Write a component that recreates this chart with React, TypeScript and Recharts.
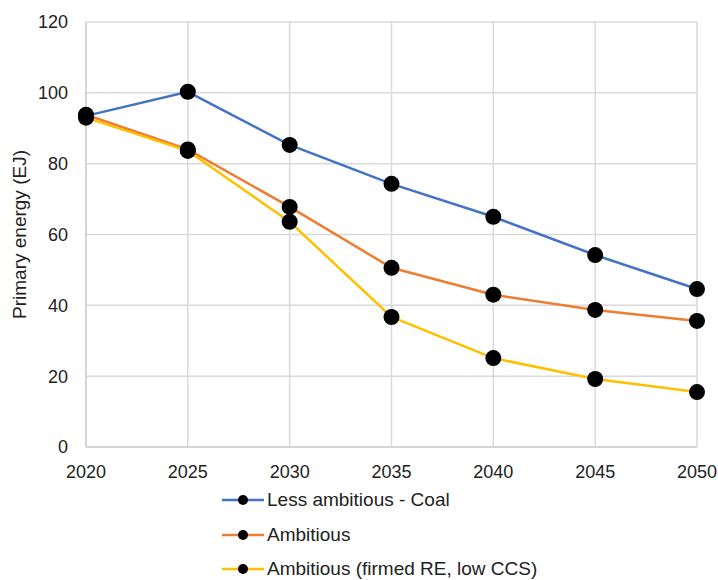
import { LineChart, Line, XAxis, YAxis, CartesianGrid } from 'recharts';

const years = ['2020', '2025', '2030', '2035', '2040', '2045', '2050'];
const lessAmbitiousCoal = [93.5, 100.3, 85.3, 74.3, 65, 54.2, 44.6];
const ambitious = [93.8, 84, 67.8, 50.6, 43, 38.7, 35.6];
const ambitiousFirmed = [93, 83.6, 63.6, 36.7, 25.1, 19.2, 15.5];
const yTicks = [0, 20, 40, 60, 80, 100, 120];

const seriesInfo = [
  { key: 'coal', name: 'Less ambitious - Coal', color: '#4472C4' },
  { key: 'amb', name: 'Ambitious', color: '#ED7D31' },
  { key: 'firmed', name: 'Ambitious (firmed RE, low CCS)', color: '#FFC000' },
];

const data = years.map((y, i) => ({
  year: y,
  coal: lessAmbitiousCoal[i],
  amb: ambitious[i],
  firmed: ambitiousFirmed[i],
}));

const font = 'Liberation Sans, Arial, sans-serif';
const tickStyle = { fill: '#222', fontSize: 18, fontFamily: font };

export default function App() {
  return (
    <div style={{ position: 'absolute', left: 0, top: 0, width: 718, height: 580, background: '#fff', fontFamily: font, overflow: 'hidden' }}>
      <LineChart width={718} height={580} data={data} margin={{ top: 22, right: 21, left: 0, bottom: 103 }}>
        <CartesianGrid stroke="#d9d9d9" strokeWidth={1.5} />
        <XAxis
          dataKey="year"
          tick={tickStyle}
          tickLine={false}
          tickSize={0}
          tickMargin={18}
          stroke="#d0d0d0"
          strokeWidth={1.5}
          height={30}
          interval={0}
        />
        <YAxis
          domain={[0, 120]}
          ticks={yTicks}
          tick={tickStyle}
          tickLine={false}
          tickSize={0}
          tickMargin={18}
          stroke="#d0d0d0"
          strokeWidth={1.5}
          width={86}
          label={{
            value: 'Primary energy (EJ)',
            angle: -90,
            position: 'insideLeft',
            offset: 12,
            dx: 7,
            style: { textAnchor: 'middle', fill: '#222', fontSize: 19, fontFamily: font },
          }}
        />
        {seriesInfo.map((s) => (
          <Line
            key={s.key}
            type="linear"
            dataKey={s.key}
            name={s.name}
            stroke={s.color}
            strokeWidth={2.5}
            dot={{ r: 8, fill: '#000', stroke: '#000', strokeWidth: 0 }}
            isAnimationActive={false}
          />
        ))}
      </LineChart>

      {/* legend */}
      <div style={{ position: 'absolute', left: 222, top: 483 }}>
        {seriesInfo.map((s) => (
          <div key={s.key} style={{ display: 'flex', alignItems: 'center', height: 34.5, lineHeight: '20px' }}>
            <svg width={42} height={14}>
              <line x1={0} y1={7} x2={42} y2={7} stroke={s.color} strokeWidth={2.5} />
              <circle cx={21} cy={7} r={5} fill="#000" />
            </svg>
            <span style={{ fontSize: 19, color: '#222', marginLeft: 3 }}>{s.name}</span>
          </div>
        ))}
      </div>
    </div>
  );
}
